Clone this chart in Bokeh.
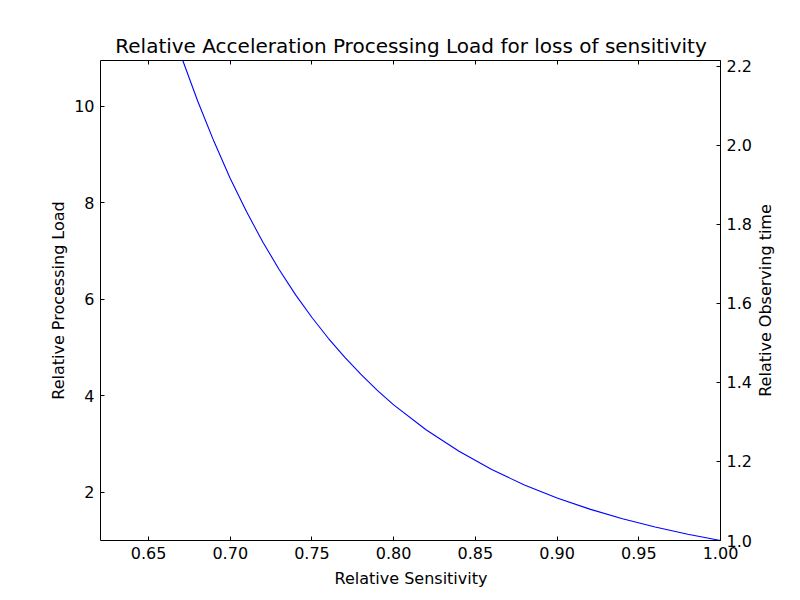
import math
from bokeh.plotting import figure
from bokeh.models import Range1d, LinearAxis, FixedTicker, PrintfTickFormatter, Label
from bokeh.embed import file_html
from bokeh.resources import INLINE

# Curve (it leaves the top of the box near 0.671)
sensitivity = [0.671, 0.68, 0.69, 0.70, 0.71, 0.72, 0.73, 0.74, 0.75, 0.76, 0.77, 0.78,
               0.79, 0.80, 0.82, 0.84, 0.86, 0.88, 0.90, 0.92, 0.94, 0.96, 0.98, 1.00]
processing_load = [10.94, 10.11, 9.27, 8.50, 7.81, 7.18, 6.61, 6.09, 5.62, 5.19, 4.80, 4.44,
                   4.11, 3.81, 3.29, 2.85, 2.47, 2.15, 1.88, 1.65, 1.45, 1.28, 1.13, 1.00]

x_ticks = [0.65, 0.70, 0.75, 0.80, 0.85, 0.90, 0.95, 1.00]
y_left_ticks = [2, 4, 6, 8, 10]
y_right_ticks = [1.0, 1.2, 1.4, 1.6, 1.8, 2.0, 2.2]

FONT = "DejaVu Sans"
X0, X1 = 0.6206, 1.0          # sensitivity range of the plot box
Y0, Y1 = 1.0, 10.945          # left axis range
T0, T1 = 1.0, 2.214           # right axis range
BOX_W, BOX_H = 620, 480
PAD_L, PAD_R, PAD_T, PAD_B = 100, 80, 60, 60

px_x = BOX_W / (X1 - X0)
px_y = BOX_H / (Y1 - Y0)
px_t = BOX_H / (T1 - T0)

p = figure(frame_width=BOX_W + PAD_L + PAD_R, frame_height=BOX_H + PAD_T + PAD_B,
           min_border=0, x_axis_location=None, y_axis_location=None,
           x_range=Range1d(X0 - PAD_L / px_x, X1 + PAD_R / px_x),
           y_range=Range1d(Y0 - PAD_B / px_y, Y1 + PAD_T / px_y),
           output_backend="svg", toolbar_location=None)
p.extra_y_ranges = {"t": Range1d(T0 - PAD_B / px_t, T1 + PAD_T / px_t)}

p.grid.visible = False
p.outline_line_color = None
p.background_fill_color = "white"
p.border_fill_color = "white"

p.line(sensitivity, processing_load, line_color="#0000ff", line_width=1.1)

def make_axis(place, ticks, fmt, bounds, loc, range_name=None):
    kw = dict(fixed_location=loc, bounds=bounds)
    if range_name:
        kw["y_range_name"] = range_name
    ax = LinearAxis(**kw)
    ax.ticker = FixedTicker(ticks=ticks)
    ax.minor_tick_line_color = None
    ax.major_tick_in = 4
    ax.major_tick_out = 0
    ax.major_tick_line_color = "black"
    ax.axis_line_color = "black"
    ax.axis_line_width = 1
    ax.major_label_text_font = FONT
    ax.major_label_text_font_size = "16px"
    ax.major_label_text_color = "black"
    ax.major_label_standoff = 6
    if fmt:
        ax.formatter = PrintfTickFormatter(format=fmt)
    else:
        ax.major_label_text_font_size = "0px"
        ax.major_label_text_alpha = 0
    p.add_layout(ax, place)
    return ax

make_axis("below", x_ticks, "%.2f", (X0, X1), Y0)
make_axis("above", x_ticks, None, (X0, X1), Y1)
make_axis("left", y_left_ticks, "%d", (Y0, Y1), X0)
make_axis("right", y_right_ticks, "%.1f", (T0, T1), X1, "t")

def add_text(text, x, y, size, angle=0.0):
    p.add_layout(Label(x=x, y=y, text=text, angle=angle,
                       text_align="center", text_baseline="middle",
                       text_font=FONT, text_font_size=size, text_color="black"))

xmid = X0 + 310.5 / px_x
ymid = (Y0 + Y1) / 2
add_text("Relative Acceleration Processing Load for loss of sensitivity",
         xmid, Y1 + 15 / px_y, "20px")
add_text("Relative Sensitivity", xmid, Y0 - 38 / px_y, "16px")
add_text("Relative Processing Load", X0 - 42 / px_x, ymid, "16px", math.pi / 2)
add_text("Relative Observing time", X1 + 45 / px_x, ymid, "16px", math.pi / 2)

open("out.html", "w").write(file_html(p, INLINE))
